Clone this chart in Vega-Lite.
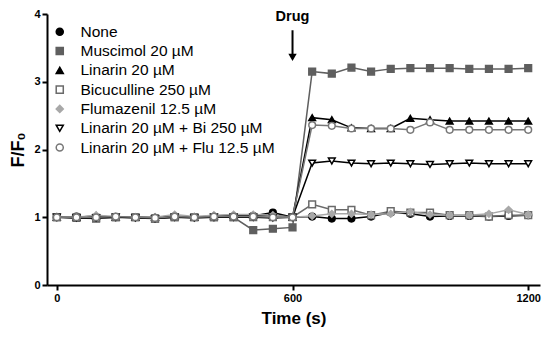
{
  "$schema": "https://vega.github.io/schema/vega-lite/v6.json",
  "width": 493,
  "height": 271,
  "autosize": {"type": "none"},
  "padding": {"left": 47, "top": 14, "right": 10, "bottom": 56},
  "config": {"view": {"stroke": null}, "font": "Liberation Sans"},
  "datasets": {
    "ann": [{"t": 600, "v": 3.95, "v2": 3.76, "v3": 3.36, "label": "Drug"}]
  },
  "data": {"values": [
    {"t":0,"s":"None","v":1.0},{"t":50,"s":"None","v":1.01},{"t":100,"s":"None","v":1.0},{"t":150,"s":"None","v":1.0},{"t":200,"s":"None","v":1.0},{"t":250,"s":"None","v":0.99},{"t":300,"s":"None","v":1.01},{"t":350,"s":"None","v":1.0},{"t":400,"s":"None","v":1.0},{"t":450,"s":"None","v":1.01},{"t":500,"s":"None","v":1.02},{"t":550,"s":"None","v":1.07},{"t":600,"s":"None","v":1.0},
    {"t":650,"s":"None","v":1.01},{"t":700,"s":"None","v":0.98},{"t":750,"s":"None","v":0.98},{"t":800,"s":"None","v":1.01},{"t":850,"s":"None","v":1.07},{"t":900,"s":"None","v":1.05},{"t":950,"s":"None","v":1.01},{"t":1000,"s":"None","v":1.02},{"t":1050,"s":"None","v":1.02},{"t":1100,"s":"None","v":1.01},{"t":1150,"s":"None","v":1.02},{"t":1200,"s":"None","v":1.03},

    {"t":0,"s":"Muscimol 20 µM","v":1.0},{"t":50,"s":"Muscimol 20 µM","v":0.99},{"t":100,"s":"Muscimol 20 µM","v":0.98},{"t":150,"s":"Muscimol 20 µM","v":1.0},{"t":200,"s":"Muscimol 20 µM","v":1.0},{"t":250,"s":"Muscimol 20 µM","v":0.98},{"t":300,"s":"Muscimol 20 µM","v":1.0},{"t":350,"s":"Muscimol 20 µM","v":1.0},{"t":400,"s":"Muscimol 20 µM","v":1.0},{"t":450,"s":"Muscimol 20 µM","v":1.0},{"t":500,"s":"Muscimol 20 µM","v":0.81},{"t":550,"s":"Muscimol 20 µM","v":0.83},{"t":600,"s":"Muscimol 20 µM","v":0.85},
    {"t":650,"s":"Muscimol 20 µM","v":3.15},{"t":700,"s":"Muscimol 20 µM","v":3.12},{"t":750,"s":"Muscimol 20 µM","v":3.21},{"t":800,"s":"Muscimol 20 µM","v":3.15},{"t":850,"s":"Muscimol 20 µM","v":3.19},{"t":900,"s":"Muscimol 20 µM","v":3.2},{"t":950,"s":"Muscimol 20 µM","v":3.2},{"t":1000,"s":"Muscimol 20 µM","v":3.2},{"t":1050,"s":"Muscimol 20 µM","v":3.19},{"t":1100,"s":"Muscimol 20 µM","v":3.19},{"t":1150,"s":"Muscimol 20 µM","v":3.19},{"t":1200,"s":"Muscimol 20 µM","v":3.2},

    {"t":0,"s":"Linarin 20 µM","v":1.0},{"t":50,"s":"Linarin 20 µM","v":1.0},{"t":100,"s":"Linarin 20 µM","v":1.02},{"t":150,"s":"Linarin 20 µM","v":1.0},{"t":200,"s":"Linarin 20 µM","v":1.0},{"t":250,"s":"Linarin 20 µM","v":1.0},{"t":300,"s":"Linarin 20 µM","v":1.02},{"t":350,"s":"Linarin 20 µM","v":1.0},{"t":400,"s":"Linarin 20 µM","v":1.02},{"t":450,"s":"Linarin 20 µM","v":1.03},{"t":500,"s":"Linarin 20 µM","v":1.03},{"t":550,"s":"Linarin 20 µM","v":1.03},{"t":600,"s":"Linarin 20 µM","v":1.0},
    {"t":650,"s":"Linarin 20 µM","v":2.47},{"t":700,"s":"Linarin 20 µM","v":2.44},{"t":750,"s":"Linarin 20 µM","v":2.32},{"t":800,"s":"Linarin 20 µM","v":2.31},{"t":850,"s":"Linarin 20 µM","v":2.31},{"t":900,"s":"Linarin 20 µM","v":2.46},{"t":950,"s":"Linarin 20 µM","v":2.44},{"t":1000,"s":"Linarin 20 µM","v":2.42},{"t":1050,"s":"Linarin 20 µM","v":2.42},{"t":1100,"s":"Linarin 20 µM","v":2.42},{"t":1150,"s":"Linarin 20 µM","v":2.42},{"t":1200,"s":"Linarin 20 µM","v":2.42},

    {"t":0,"s":"Bicuculline 250 µM","v":1.0},{"t":50,"s":"Bicuculline 250 µM","v":1.0},{"t":100,"s":"Bicuculline 250 µM","v":0.99},{"t":150,"s":"Bicuculline 250 µM","v":1.0},{"t":200,"s":"Bicuculline 250 µM","v":1.0},{"t":250,"s":"Bicuculline 250 µM","v":0.98},{"t":300,"s":"Bicuculline 250 µM","v":1.0},{"t":350,"s":"Bicuculline 250 µM","v":1.0},{"t":400,"s":"Bicuculline 250 µM","v":1.0},{"t":450,"s":"Bicuculline 250 µM","v":1.0},{"t":500,"s":"Bicuculline 250 µM","v":1.0},{"t":550,"s":"Bicuculline 250 µM","v":1.0},{"t":600,"s":"Bicuculline 250 µM","v":1.0},
    {"t":650,"s":"Bicuculline 250 µM","v":1.19},{"t":700,"s":"Bicuculline 250 µM","v":1.11},{"t":750,"s":"Bicuculline 250 µM","v":1.11},{"t":800,"s":"Bicuculline 250 µM","v":1.03},{"t":850,"s":"Bicuculline 250 µM","v":1.09},{"t":900,"s":"Bicuculline 250 µM","v":1.07},{"t":950,"s":"Bicuculline 250 µM","v":1.07},{"t":1000,"s":"Bicuculline 250 µM","v":1.03},{"t":1050,"s":"Bicuculline 250 µM","v":1.03},{"t":1100,"s":"Bicuculline 250 µM","v":1.01},{"t":1150,"s":"Bicuculline 250 µM","v":1.03},{"t":1200,"s":"Bicuculline 250 µM","v":1.03},

    {"t":0,"s":"Flumazenil 12.5 µM","v":1.01},{"t":50,"s":"Flumazenil 12.5 µM","v":1.0},{"t":100,"s":"Flumazenil 12.5 µM","v":1.03},{"t":150,"s":"Flumazenil 12.5 µM","v":1.01},{"t":200,"s":"Flumazenil 12.5 µM","v":1.0},{"t":250,"s":"Flumazenil 12.5 µM","v":1.0},{"t":300,"s":"Flumazenil 12.5 µM","v":1.04},{"t":350,"s":"Flumazenil 12.5 µM","v":1.01},{"t":400,"s":"Flumazenil 12.5 µM","v":1.03},{"t":450,"s":"Flumazenil 12.5 µM","v":1.04},{"t":500,"s":"Flumazenil 12.5 µM","v":1.04},{"t":550,"s":"Flumazenil 12.5 µM","v":1.03},{"t":600,"s":"Flumazenil 12.5 µM","v":1.0},
    {"t":650,"s":"Flumazenil 12.5 µM","v":1.02},{"t":700,"s":"Flumazenil 12.5 µM","v":1.05},{"t":750,"s":"Flumazenil 12.5 µM","v":1.05},{"t":800,"s":"Flumazenil 12.5 µM","v":1.04},{"t":850,"s":"Flumazenil 12.5 µM","v":1.05},{"t":900,"s":"Flumazenil 12.5 µM","v":1.08},{"t":950,"s":"Flumazenil 12.5 µM","v":1.04},{"t":1000,"s":"Flumazenil 12.5 µM","v":1.03},{"t":1050,"s":"Flumazenil 12.5 µM","v":1.03},{"t":1100,"s":"Flumazenil 12.5 µM","v":1.05},{"t":1150,"s":"Flumazenil 12.5 µM","v":1.11},{"t":1200,"s":"Flumazenil 12.5 µM","v":1.04},

    {"t":0,"s":"Linarin 20 µM + Bi 250 µM","v":1.0},{"t":50,"s":"Linarin 20 µM + Bi 250 µM","v":0.99},{"t":100,"s":"Linarin 20 µM + Bi 250 µM","v":0.99},{"t":150,"s":"Linarin 20 µM + Bi 250 µM","v":1.0},{"t":200,"s":"Linarin 20 µM + Bi 250 µM","v":0.99},{"t":250,"s":"Linarin 20 µM + Bi 250 µM","v":0.98},{"t":300,"s":"Linarin 20 µM + Bi 250 µM","v":1.0},{"t":350,"s":"Linarin 20 µM + Bi 250 µM","v":0.99},{"t":400,"s":"Linarin 20 µM + Bi 250 µM","v":1.0},{"t":450,"s":"Linarin 20 µM + Bi 250 µM","v":1.0},{"t":500,"s":"Linarin 20 µM + Bi 250 µM","v":1.0},{"t":550,"s":"Linarin 20 µM + Bi 250 µM","v":0.99},{"t":600,"s":"Linarin 20 µM + Bi 250 µM","v":1.0},
    {"t":650,"s":"Linarin 20 µM + Bi 250 µM","v":1.8},{"t":700,"s":"Linarin 20 µM + Bi 250 µM","v":1.83},{"t":750,"s":"Linarin 20 µM + Bi 250 µM","v":1.8},{"t":800,"s":"Linarin 20 µM + Bi 250 µM","v":1.79},{"t":850,"s":"Linarin 20 µM + Bi 250 µM","v":1.8},{"t":900,"s":"Linarin 20 µM + Bi 250 µM","v":1.79},{"t":950,"s":"Linarin 20 µM + Bi 250 µM","v":1.78},{"t":1000,"s":"Linarin 20 µM + Bi 250 µM","v":1.79},{"t":1050,"s":"Linarin 20 µM + Bi 250 µM","v":1.8},{"t":1100,"s":"Linarin 20 µM + Bi 250 µM","v":1.79},{"t":1150,"s":"Linarin 20 µM + Bi 250 µM","v":1.79},{"t":1200,"s":"Linarin 20 µM + Bi 250 µM","v":1.79},

    {"t":0,"s":"Linarin 20 µM + Flu 12.5 µM","v":1.0},{"t":50,"s":"Linarin 20 µM + Flu 12.5 µM","v":1.0},{"t":100,"s":"Linarin 20 µM + Flu 12.5 µM","v":1.0},{"t":150,"s":"Linarin 20 µM + Flu 12.5 µM","v":1.01},{"t":200,"s":"Linarin 20 µM + Flu 12.5 µM","v":1.0},{"t":250,"s":"Linarin 20 µM + Flu 12.5 µM","v":0.99},{"t":300,"s":"Linarin 20 µM + Flu 12.5 µM","v":1.01},{"t":350,"s":"Linarin 20 µM + Flu 12.5 µM","v":1.0},{"t":400,"s":"Linarin 20 µM + Flu 12.5 µM","v":1.01},{"t":450,"s":"Linarin 20 µM + Flu 12.5 µM","v":1.01},{"t":500,"s":"Linarin 20 µM + Flu 12.5 µM","v":1.01},{"t":550,"s":"Linarin 20 µM + Flu 12.5 µM","v":1.0},{"t":600,"s":"Linarin 20 µM + Flu 12.5 µM","v":1.0},
    {"t":650,"s":"Linarin 20 µM + Flu 12.5 µM","v":2.36},{"t":700,"s":"Linarin 20 µM + Flu 12.5 µM","v":2.35},{"t":750,"s":"Linarin 20 µM + Flu 12.5 µM","v":2.31},{"t":800,"s":"Linarin 20 µM + Flu 12.5 µM","v":2.31},{"t":850,"s":"Linarin 20 µM + Flu 12.5 µM","v":2.31},{"t":900,"s":"Linarin 20 µM + Flu 12.5 µM","v":2.29},{"t":950,"s":"Linarin 20 µM + Flu 12.5 µM","v":2.4},{"t":1000,"s":"Linarin 20 µM + Flu 12.5 µM","v":2.29},{"t":1050,"s":"Linarin 20 µM + Flu 12.5 µM","v":2.29},{"t":1100,"s":"Linarin 20 µM + Flu 12.5 µM","v":2.29},{"t":1150,"s":"Linarin 20 µM + Flu 12.5 µM","v":2.29},{"t":1200,"s":"Linarin 20 µM + Flu 12.5 µM","v":2.29}
  ]},
  "resolve": {"legend": {"stroke": "shared"}},
  "layer": [
    {
      "mark": {"type": "line", "strokeWidth": 1.5},
      "encoding": {
        "x": {"field": "t", "type": "quantitative", "scale": {"domain": [-25, 1230], "nice": false},
              "axis": {"title": "Time (s)", "values": [0, 600, 1200], "format": "d", "labelFontWeight": "bold", "labelFontSize": 11, "labelColor": "#000", "domainColor": "#000", "domainWidth": 2, "tickColor": "#000", "tickWidth": 2, "tickSize": 5, "grid": false, "titleFontSize": 17, "titleFontWeight": "bold", "titleColor": "#000", "titlePadding": 7}},
        "y": {"field": "v", "type": "quantitative", "scale": {"domain": [0, 4], "nice": false},
              "axis": {"title": "F/F₀", "values": [0, 1, 2, 3, 4], "format": "d", "labelFontWeight": "bold", "labelFontSize": 11, "labelColor": "#000", "domainColor": "#000", "domainWidth": 2, "tickColor": "#000", "tickWidth": 2, "tickSize": 5, "grid": false, "titleFontSize": 18, "titleFontWeight": "bold", "titleColor": "#000", "titlePadding": 6}},
        "stroke": {"field": "s", "type": "nominal",
          "scale": {"domain": ["None", "Muscimol 20 µM", "Linarin 20 µM", "Bicuculline 250 µM", "Flumazenil 12.5 µM", "Linarin 20 µM + Bi 250 µM", "Linarin 20 µM + Flu 12.5 µM"],
                    "range": ["#000000", "#5f5f5f", "#000000", "#6a6a6a", "#a8a8a8", "#000000", "#777777"]},
          "legend": {"title": null, "orient": "none", "legendX": 3, "legendY": 10, "labelFontSize": 15.5, "labelLimit": 0, "labelColor": "#000", "rowPadding": 2.3, "symbolSize": 50, "symbolStrokeWidth": 1.5, "labelOffset": 13, "symbolOffset": 2}}
      }
    },
    {
      "mark": {"type": "point", "filled": false, "strokeWidth": 1.5, "size": 45, "opacity": 1},
      "encoding": {
        "x": {"field": "t", "type": "quantitative"},
        "y": {"field": "v", "type": "quantitative"},
        "stroke": {"field": "s", "type": "nominal"},
        "fill": {"field": "s", "type": "nominal",
          "scale": {"domain": ["None", "Muscimol 20 µM", "Linarin 20 µM", "Bicuculline 250 µM", "Flumazenil 12.5 µM", "Linarin 20 µM + Bi 250 µM", "Linarin 20 µM + Flu 12.5 µM"],
                    "range": ["#000000", "#5f5f5f", "#000000", "#ffffff", "#a8a8a8", "#ffffff", "#ffffff"]}},
        "shape": {"field": "s", "type": "nominal",
          "scale": {"domain": ["None", "Muscimol 20 µM", "Linarin 20 µM", "Bicuculline 250 µM", "Flumazenil 12.5 µM", "Linarin 20 µM + Bi 250 µM", "Linarin 20 µM + Flu 12.5 µM"],
                    "range": ["circle", "square", "triangle-up", "square", "diamond", "triangle-down", "circle"]}}
      }
    },
    {
      "data": {"name": "ann"},
      "mark": {"type": "text", "fontWeight": "bold", "fontSize": 14.5, "color": "#000", "baseline": "middle"},
      "encoding": {"x": {"field": "t", "type": "quantitative"}, "y": {"field": "v", "type": "quantitative"}, "text": {"field": "label"}}
    },
    {
      "data": {"name": "ann"},
      "mark": {"type": "rule", "strokeWidth": 2, "color": "#000"},
      "encoding": {"x": {"field": "t", "type": "quantitative"}, "y": {"field": "v2", "type": "quantitative"}, "y2": {"field": "v3"}}
    },
    {
      "data": {"name": "ann"},
      "mark": {"type": "point", "shape": "triangle-down", "filled": true, "color": "#000", "size": 70, "opacity": 1},
      "encoding": {"x": {"field": "t", "type": "quantitative"}, "y": {"field": "v3", "type": "quantitative"}}
    }
  ]
}
